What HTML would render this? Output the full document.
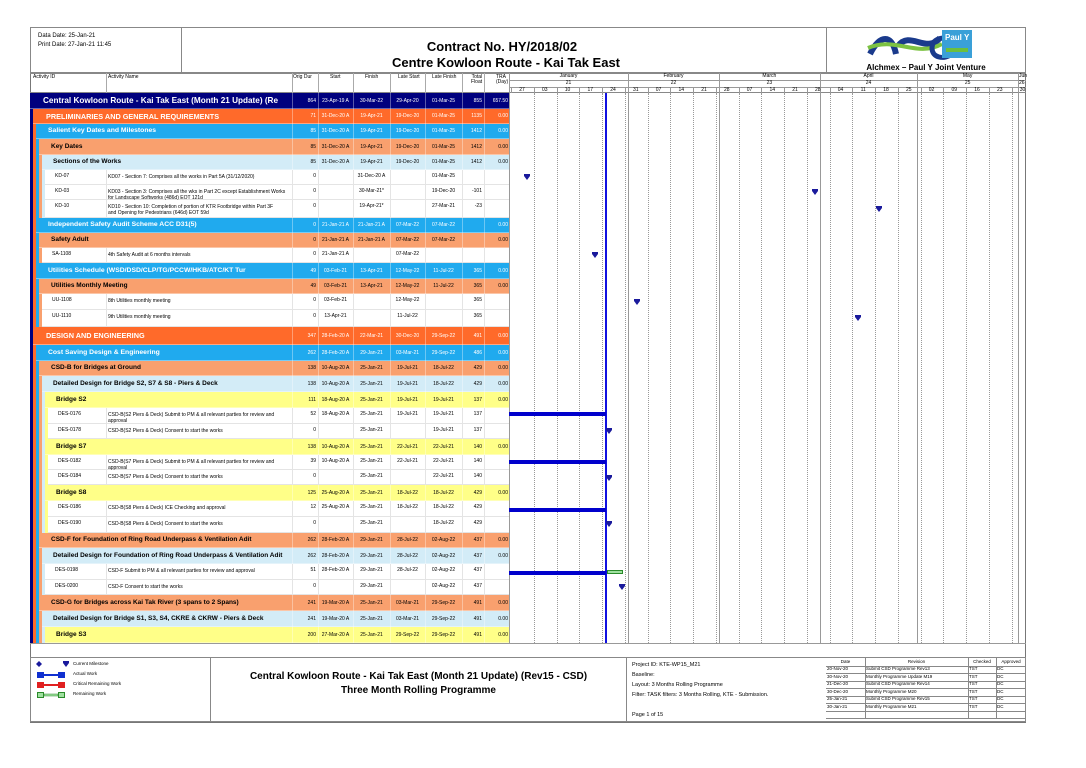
<!DOCTYPE html>
<html><head><meta charset="utf-8">
<style>
*{margin:0;padding:0;box-sizing:border-box}
body{width:1086px;height:768px;background:#fff;position:relative;overflow:hidden;font-family:"Liberation Sans",sans-serif;color:#000}
.a{position:absolute}
.t{position:absolute;white-space:nowrap;line-height:1}
</style></head><body>
<div id="c"></div>
<script>
var H='';
function R(x,y,w,h,st){H+='<div class="a" style="left:'+x+'px;top:'+y+'px;width:'+w+'px;height:'+h+'px;'+(st||'')+'"></div>';}
function T(x,y,s,st){H+='<div class="t" style="left:'+x+'px;top:'+y+'px;'+(st||'')+'">'+s+'</div>';}
R(30,27,996,696,'border:1px solid #777');
R(30,27,152,46,'border:1px solid #888');
R(182,27,644,46,'border-top:1px solid #888;border-bottom:1px solid #888');
R(826,27,200,46,'border:1px solid #888');
T(38,33,'Data Date: 25-Jan-21','font-size:6px');
T(38,42,'Print Date: 27-Jan-21 11:45','font-size:6px');
T(392,40,'Contract No. HY/2018/02','font-size:13px;font-weight:bold;width:220px;text-align:center');
T(392,56,'Centre Kowloon Route - Kai Tak East','font-size:13px;font-weight:bold;width:220px;text-align:center');
H+='<svg class="a" style="left:866px;top:28px" width="120" height="36"><path d="M4 26 C14 6 26 6 30 26 M32 18 C44 2 60 26 74 10" stroke="#1a3a8c" stroke-width="6" fill="none"/><path d="M2 20 C30 8 50 30 76 16" stroke="#7cc242" stroke-width="4" fill="none"/><path d="M86 12 C78 8 66 10 66 20 C66 30 78 32 86 26" stroke="#1a3a8c" stroke-width="5" fill="none"/><rect x="76" y="2" width="30" height="28" fill="#3aa0d8"/><text x="79" y="12" font-size="8" fill="#fff" font-weight="bold" font-family="Liberation Sans">Paul Y</text><rect x="80" y="20" width="22" height="4" fill="#6cbf3c"/></svg>';
T(866,64,'Alchmex – Paul Y Joint Venture','font-size:8px;font-weight:bold;width:120px;text-align:center');
R(30,73,479,20,'border-bottom:1px solid #888;border-top:1px solid #888');
var cols=[106,292,318,353,390,425,462,484];
cols.forEach(function(x){R(x,73,1,20,'background:#aaa');});
T(33,75,'Activity ID','font-size:5px');T(108,75,'Activity Name','font-size:5px');
T(293,75,'Orig Dur','font-size:5px');T(330,75,'Start','font-size:5px');T(365,75,'Finish','font-size:5px');
T(398,75,'Late Start','font-size:5px');T(432,75,'Late Finish','font-size:5px');
T(471,75,'Total<br>Float','font-size:5px;text-align:right');T(496,75,'TRA<br>(Day)','font-size:5px');
var X0=511,D=3.25;function dx(d){return X0+d*D;}
R(509,73,517,20,'border-top:1px solid #888;border-bottom:1px solid #888;border-left:1px solid #888');
R(509,80,517,1,'background:#999');R(509,87,517,1,'background:#999');
var months=[['January','21',-26,36],['February','22',36,64],['March','23',64,95],['April','24',95,125],['May','25',125,156],['June','26',156,186]];
months.forEach(function(m){var a=Math.max(dx(m[2]),509),b=Math.min(dx(m[3]),1026);R(a,73,1,570,'background:#999');
 if(b-a>15){T(a,74,m[0],'font-size:5px;width:'+(b-a)+'px;text-align:center');T(a,81,m[1],'font-size:5px;width:'+(b-a)+'px;text-align:center');}
 else{T(a+1,74,'Jun','font-size:5px');T(a+1,81,'26','font-size:5px');}});
var wk=['27','03','10','17','24','31','07','14','21','28','07','14','21','28','04','11','18','25','02','09','16','23','30'];
for(var i=0;i<wk.length;i++){var x=dx(i*7);R(x,87,1,6,'background:#999');T(x,88,wk[i],'font-size:5px;width:22px;text-align:center');
 if(i>0)R(x,93,0,550,'border-left:1px dotted #999');}
var C={0:['#00007e','#fff'],1:['#ff6a2a','#fff'],2:['#20aaee','#fff'],3:['#f9a06e','#000'],4:['#d3ecf7','#000'],5:['#ffff88','#000']};
var rows=[
[0,'','Central Kowloon Route - Kai Tak East (Month 21 Update) (Re','864','23-Apr-19 A','30-Mar-22','29-Apr-20','01-Mar-25','855','657.50',93,109],
[1,'','PRELIMINARIES AND GENERAL REQUIREMENTS','71','31-Dec-20 A','19-Apr-21','19-Dec-20','01-Mar-25','1135','0.00',109,124],
[2,'','Salient Key Dates and Milestones','85','31-Dec-20 A','19-Apr-21','19-Dec-20','01-Mar-25','1412','0.00',124,139],
[3,'','Key Dates','85','31-Dec-20 A','19-Apr-21','19-Dec-20','01-Mar-25','1412','0.00',139,155],
[4,'','Sections of the Works','85','31-Dec-20 A','19-Apr-21','19-Dec-20','01-Mar-25','1412','0.00',155,170],
[9,'KD-07','KD07 - Section 7: Comprises all the works in Part 5A (31/12/2020)','0','','31-Dec-20 A','','01-Mar-25','','',170,185],
[9,'KD-03','KD03 - Section 3: Comprises all the wks in Part 2C except Establishment Works<br>for Landscape Softworks (486d) EOT 121d','0','','30-Mar-21*','','19-Dec-20','-101','',185,200],
[9,'KD-10','KD10 - Section 10: Completion of portion of KTR Footbridge within Part 3F<br>and Opening for Pedestrians (646d) EOT 59d','0','','19-Apr-21*','','27-Mar-21','-23','',200,218],
[2,'','Independent Safety Audit Scheme ACC D31(5)','0','21-Jan-21 A','21-Jan-21 A','07-Mar-22','07-Mar-22','','0.00',218,233],
[3,'','Safety Adult','0','21-Jan-21 A','21-Jan-21 A','07-Mar-22','07-Mar-22','','0.00',233,248],
[9,'SA-1108','4th Safety Audit at 6 months intervals','0','21-Jan-21 A','','07-Mar-22','','','',248,263],
[2,'','Utilities Schedule (WSD/DSD/CLP/TG/PCCW/HKB/ATC/KT Tur','49','03-Feb-21','13-Apr-21','12-May-22','11-Jul-22','365','0.00',263,279],
[3,'','Utilities Monthly Meeting','49','03-Feb-21','13-Apr-21','12-May-22','11-Jul-22','365','0.00',279,294],
[9,'UU-1108','8th Utilities monthly meeting','0','03-Feb-21','','12-May-22','','365','',294,310],
[9,'UU-1110','9th  Utilities monthly meeting','0','13-Apr-21','','11-Jul-22','','365','',310,327],
[1,'','DESIGN AND ENGINEERING','347','28-Feb-20 A','22-Mar-21','30-Dec-20','29-Sep-22','491','0.00',327,345],
[2,'','Cost Saving Design &amp; Engineering','262','28-Feb-20 A','29-Jan-21','03-Mar-21','29-Sep-22','486','0.00',345,361],
[3,'','CSD-B for Bridges at Ground','138','10-Aug-20 A','25-Jan-21','19-Jul-21','18-Jul-22','429','0.00',361,376],
[4,'','Detailed Design for Bridge S2, S7 &amp; S8 - Piers &amp; Deck','138','10-Aug-20 A','25-Jan-21','19-Jul-21','18-Jul-22','429','0.00',376,392],
[5,'','Bridge S2','111','18-Aug-20 A','25-Jan-21','19-Jul-21','19-Jul-21','137','0.00',392,408],
[9,'DES-0176','CSD-B(S2 Piers &amp; Deck) Submit to PM &amp; all relevant parties for review and<br>approval','52','18-Aug-20 A','25-Jan-21','19-Jul-21','19-Jul-21','137','',408,424],
[9,'DES-0178','CSD-B(S2 Piers &amp; Deck) Consent to start the works','0','','25-Jan-21','','19-Jul-21','137','',424,439],
[5,'','Bridge S7','138','10-Aug-20 A','25-Jan-21','22-Jul-21','22-Jul-21','140','0.00',439,455],
[9,'DES-0182','CSD-B(S7 Piers &amp; Deck) Submit to PM &amp; all relevant parties for review and<br>approval','39','10-Aug-20 A','25-Jan-21','22-Jul-21','22-Jul-21','140','',455,470],
[9,'DES-0184','CSD-B(S7 Piers &amp; Deck) Consent to start the works','0','','25-Jan-21','','22-Jul-21','140','',470,485],
[5,'','Bridge S8','125','25-Aug-20 A','25-Jan-21','18-Jul-22','18-Jul-22','429','0.00',485,501],
[9,'DES-0186','CSD-B(S8 Piers &amp; Deck) ICE Checking and approval','12','25-Aug-20 A','25-Jan-21','18-Jul-22','18-Jul-22','429','',501,517],
[9,'DES-0190','CSD-B(S8 Piers &amp; Deck) Consent to start the works','0','','25-Jan-21','','18-Jul-22','429','',517,533],
[3,'','CSD-F for Foundation of Ring Road Underpass &amp; Ventilation Adit','262','28-Feb-20 A','29-Jan-21','28-Jul-22','02-Aug-22','437','0.00',533,548],
[4,'','Detailed Design for Foundation of Ring Road Underpass &amp; Ventilation Adit','262','28-Feb-20 A','29-Jan-21','28-Jul-22','02-Aug-22','437','0.00',548,564],
[9,'DES-0198','CSD-F Submit to PM &amp; all relevant parties for review and approval','51','28-Feb-20 A','29-Jan-21','28-Jul-22','02-Aug-22','437','',564,580],
[9,'DES-0200','CSD-F Consent to start the works','0','','29-Jan-21','','02-Aug-22','437','',580,595],
[3,'','CSD-G for Bridges across Kai Tak River (3 spans to 2 Spans)','241','19-Mar-20 A','25-Jan-21','03-Mar-21','29-Sep-22','491','0.00',595,611],
[4,'','Detailed Design for Bridge S1, S3, S4, CKRE &amp; CKRW - Piers &amp; Deck','241','19-Mar-20 A','25-Jan-21','03-Mar-21','29-Sep-22','491','0.00',611,627],
[5,'','Bridge S3','200','27-Mar-20 A','25-Jan-21','29-Sep-22','29-Sep-22','491','0.00',627,643]
];
var FS={0:8.2,1:7.3,2:6.8,3:6.5,4:6.5,5:6.5};
var OFF={0:13,1:13,2:12,3:12,4:11,5:11};
var lastLvl=0;
rows.forEach(function(r,i){
 var lv=r[0],y0=r[10],y1=r[11],h=y1-y0;
 if(lv<9){
  var end=y1;for(var j=i+1;j<rows.length;j++){if(rows[j][0]<=lv)break;end=rows[j][11];}
  var x=30+lv*3;R(x,y0,509-x,end-y0,'background:'+C[lv][0]);lastLvl=lv;
  var fs=FS[lv];
  T(x+OFF[lv],y0+(h-fs)/2,r[2],'font-weight:bold;font-size:'+fs+'px;color:'+C[lv][1]);
  cols.slice(1).forEach(function(c){R(c,y0,1,h,'background:rgba(255,255,255,0.35)');});
  R(30+lv*3,y1-1,509-30-lv*3,1,'background:rgba(255,255,255,0.4)');
 } else {
  var x=30+(lastLvl+1)*3;R(x,y0,509-x,h,'background:#fff;border-bottom:1px solid #e4e4e4');
  cols.forEach(function(c){R(c,y0,1,h,'background:#e4e4e4');});
  T(x+10,y0+4,r[1],'font-size:5px');
  T(108,y0+4,r[2],'font-size:5px;line-height:6px');
 }
 var col=lv<9?C[lv][1]:'#000',fz='font-size:5px;color:'+col;
 var ty=y0+(h-5)/2; if(lv==9)ty=y0+4;
 T(292,ty,r[3],fz+';width:24px;text-align:right');
 T(318,ty,r[4],fz+';width:35px;text-align:center');
 T(353,ty,r[5],fz+';width:37px;text-align:center');
 T(390,ty,r[6],fz+';width:35px;text-align:center');
 T(425,ty,r[7],fz+';width:37px;text-align:center');
 T(462,ty,r[8],fz+';width:20px;text-align:right');
 T(484,ty,r[9],fz+';width:24px;text-align:right');
});
R(30,643,996,1,'background:#999');
R(605,93,2,550,'background:#1010e0');
[[412],[460],[508],[571]].forEach(function(b){R(509,b[0],97,4,'background:#0000cc');});
R(607,570,16,4,'background:#9fe09f;border:1px solid #2a8a2a');
function M(x,y){H+='<svg class="a" style="left:'+(x-3)+'px;top:'+(y-3)+'px" width="6" height="6"><path d="M0 0H6V2L3 6L0 2Z" fill="#1a1a9c"/></svg>';}
M(527,177);M(815,192);M(879,209);M(595,255);M(637,302);M(858,318);M(609,431);M(609,478);M(609,524);M(622,587);
R(30,657,996,65,'border:1px solid #888');
R(210,657,417,65,'border-left:1px solid #888;border-right:1px solid #888');
H+='<svg class="a" style="left:36px;top:661px" width="40" height="40"><path d="M3 0L6 3L3 6L0 3Z" fill="#1a1a9c"/><path d="M27 0H33V2L30 6L27 2Z" fill="#1a1a9c"/>'+
'<rect x="1" y="11" width="7" height="6" fill="#1030d0"/><rect x="8" y="13" width="14" height="2" fill="#1030d0"/><rect x="22" y="11" width="7" height="6" fill="#1030d0"/>'+
'<rect x="1" y="21" width="7" height="6" fill="#e02020"/><rect x="8" y="23" width="14" height="2" fill="#e02020"/><rect x="22" y="21" width="7" height="6" fill="#e02020"/>'+
'<rect x="1.5" y="31.5" width="6" height="5" fill="#9fe09f" stroke="#2a8a2a"/><rect x="8" y="33" width="14" height="2" fill="#9fe09f" stroke="#2a8a2a" stroke-width=".5"/><rect x="22.5" y="31.5" width="6" height="5" fill="#9fe09f" stroke="#2a8a2a"/></svg>';
T(73,662,'Current Milestone','font-size:4.5px');T(73,672,'Actual Work','font-size:4.5px');
T(73,682,'Critical Remaining Work','font-size:4.5px');T(73,692,'Remaining Work','font-size:4.5px');
T(210,672,'Central Kowloon Route - Kai Tak East (Month 21 Update) (Rev15 - CSD)','font-size:10px;font-weight:bold;width:417px;text-align:center');
T(210,686,'Three Month Rolling Programme','font-size:10px;font-weight:bold;width:417px;text-align:center');
var pi=['Project ID: KTE-WP15_M21','Baseline:','Layout: 3 Months Rolling Programme','Filter: TASK filters: 3 Months Rolling, KTE - Submission.'];
pi.forEach(function(s,i){T(632,663+i*10,s,'font-size:5.5px');});
T(632,713,'Page 1 of 15','font-size:5.5px');
var rv=[['Date','Revision','Checked','Approved'],['20-Nov-20','Submit CSD Programme Rev13','TST','DC'],['30-Nov-20','Monthly Programme Update M19','TST','DC'],['21-Dec-20','Submit CSD Programme Rev14','TST','DC'],['30-Dec-20','Monthly Programme M20','TST','DC'],['25-Jan-21','Submit CSD Programme Rev15','TST','DC'],['30-Jan-21','Monthly Programme M21','TST','DC'],['','','','']];
var rc=[826,865,968,996,1026];
rv.forEach(function(r,i){var y=658+i*7.5;R(826,y+7.5,200,1,'background:#888');
 for(var k=0;k<4;k++){T(rc[k]+(i?1:0),y+1.5,r[k],'font-size:4.5px'+(i?'':';width:'+(rc[k+1]-rc[k])+'px;text-align:center'));}});
for(var k=1;k<4;k++)R(rc[k],658,1,60,'background:#888');
document.getElementById('c').innerHTML=H;
</script>
</body></html>
